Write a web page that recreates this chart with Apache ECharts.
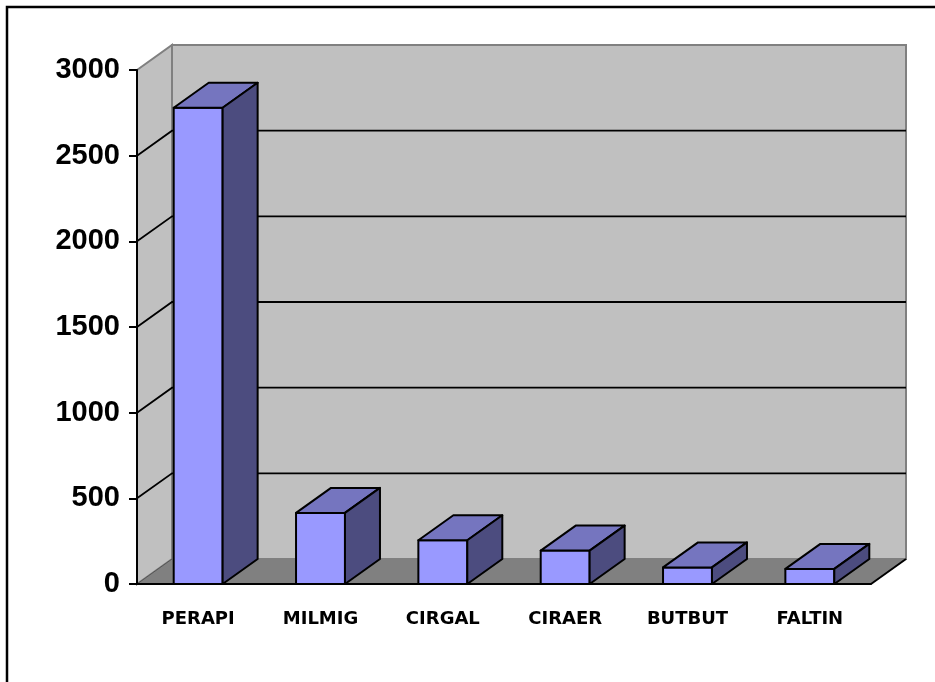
<!DOCTYPE html>
<html>
<head>
<meta charset="utf-8">
<script src="https://cdn.jsdelivr.net/npm/echarts@6/dist/echarts.min.js"></script>
<style>
  html, body { margin: 0; padding: 0; background: #fff; }
  #chart { width: 935px; height: 682px; }
</style>
</head>
<body>
<div id="chart"></div>
<script>
const categories = ['PERAPI', 'MILMIG', 'CIRGAL', 'CIRAER', 'BUTBUT', 'FALTIN']
const values = [2780, 415, 255, 195, 97, 88]
const yTicks = [0, 500, 1000, 1500, 2000, 2500, 3000]

// depth offset of the 3d look
const DX = 35
const DY = -25

const chart = echarts.init(document.getElementById('chart'))

function renderWalls(params, api) {
  const cs = params.coordSys
  const x0 = cs.x
  const x1 = cs.x + cs.width
  const yTop = cs.y
  const yBot = cs.y + cs.height
  const children = [
    {
      type: 'polygon',
      shape: { points: [[x0, yTop], [x0 + DX, yTop + DY], [x0 + DX, yBot + DY], [x0, yBot]] },
      style: { fill: '#c0c0c0', stroke: '#808080', lineWidth: 2 },
    },
    {
      type: 'polygon',
      shape: { points: [[x0 + DX, yTop + DY], [x1 + DX, yTop + DY], [x1 + DX, yBot + DY], [x0 + DX, yBot + DY]] },
      style: { fill: '#c0c0c0', stroke: '#808080', lineWidth: 2 },
    },
    {
      type: 'polygon',
      shape: { points: [[x0, yBot], [x0 + DX, yBot + DY], [x1 + DX, yBot + DY], [x1, yBot]] },
      style: { fill: '#808080' },
    },
    {
      type: 'line',
      shape: { x1: x0, y1: yBot, x2: x0 + DX, y2: yBot + DY },
      style: { stroke: '#555', lineWidth: 1 },
    },
    {
      type: 'line',
      shape: { x1: x1, y1: yBot, x2: x1 + DX, y2: yBot + DY },
      style: { stroke: '#000', lineWidth: 2 },
    },
  ]
  yTicks.slice(1, -1).forEach((t) => {
    const y = api.coord([0, t])[1]
    children.push({
      type: 'polyline',
      shape: { points: [[x0, y], [x0 + DX, y + DY], [x1 + DX, y + DY]] },
      style: { stroke: '#000', lineWidth: 1.8, fill: null },
    })
  })
  // front edges (axis lines) on top of the walls
  children.push({
    type: 'polyline',
    shape: { points: [[x0, yTop], [x0, yBot], [x1, yBot]] },
    style: { stroke: '#000', lineWidth: 2, fill: null },
  })
  return { type: 'group', children }
}

function renderBar(params, api) {
  const top = api.coord([api.value(0), api.value(1)])
  const base = api.coord([api.value(0), 0])
  const w = api.size([1, 0])[0] * 0.4
  const l = top[0] - w / 2
  const r = top[0] + w / 2
  const yT = top[1]
  const yB = base[1]
  const edge = { stroke: '#000', lineWidth: 2, lineJoin: 'round' }
  return {
    type: 'group',
    children: [
      {
        type: 'polygon',
        shape: { points: [[l, yT], [r, yT], [r, yB], [l, yB]] },
        style: Object.assign({ fill: '#9999ff' }, edge),
      },
      {
        type: 'polygon',
        shape: { points: [[l, yT], [l + DX, yT + DY], [r + DX, yT + DY], [r, yT]] },
        style: Object.assign({ fill: '#7575bf' }, edge),
      },
      {
        type: 'polygon',
        shape: { points: [[r, yT], [r + DX, yT + DY], [r + DX, yB + DY], [r, yB]] },
        style: Object.assign({ fill: '#4c4c7f' }, edge),
      },
    ],
  }
}

chart.setOption({
  animation: false,
  backgroundColor: '#fff',
  graphic: [
    {
      type: 'rect',
      shape: { x: 7, y: 7, width: 1000, height: 1000 },
      style: { fill: null, stroke: '#000', lineWidth: 2.5 },
      z: 100,
    },
  ],
  grid: { left: 137, right: 64, top: 70, bottom: 98 },
  xAxis: {
    type: 'category',
    data: categories,
    axisLine: { lineStyle: { color: '#000', width: 2 } },
    axisTick: { length: 9, lineStyle: { color: '#000', width: 2 } },
    axisLabel: {
      margin: 26,
      color: '#000',
      fontFamily: '"DejaVu Sans", sans-serif',
      fontWeight: 'bold',
      fontSize: 18,
    },
    z: 5,
  },
  yAxis: {
    type: 'value',
    min: 0,
    max: 3000,
    interval: 500,
    splitLine: { show: false },
    axisLine: { show: true, lineStyle: { color: '#000', width: 2 } },
    axisTick: { show: true, length: 8, lineStyle: { color: '#000', width: 2 } },
    axisLabel: {
      margin: 17,
      color: '#000',
      fontFamily: '"Liberation Sans", Arial, sans-serif',
      fontWeight: 'bold',
      fontSize: 29,
      formatter: (v) => String(v),
    },
    z: 5,
  },
  series: [
    {
      type: 'custom',
      renderItem: renderWalls,
      data: [[0, 0]],
      z: 1,
      silent: true,
    },
    {
      type: 'custom',
      renderItem: renderBar,
      data: values.map((v, i) => [i, v]),
      z: 10,
    },
  ],
})
</script>
</body>
</html>
